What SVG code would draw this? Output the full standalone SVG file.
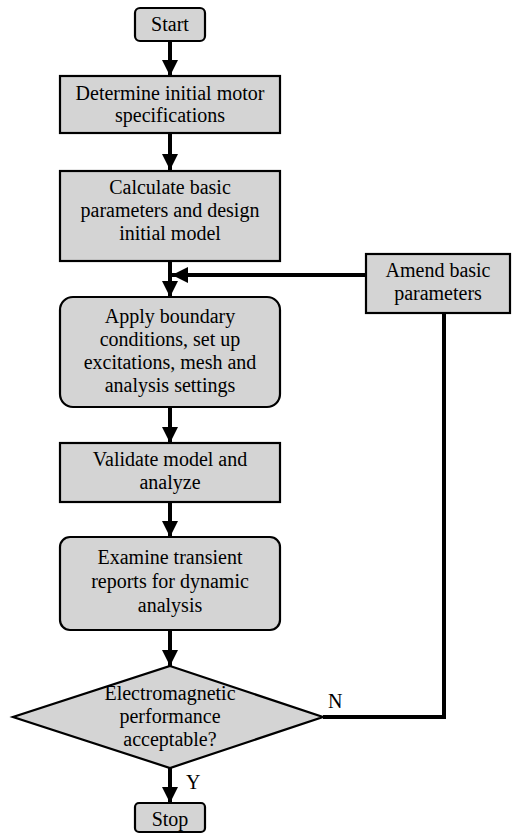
<svg xmlns="http://www.w3.org/2000/svg" width="512" height="834" viewBox="0 0 512 834">
<style>
.box{fill:#d4d4d4;stroke:#000;stroke-width:2.2}
.t{font-family:"Liberation Serif","Times New Roman",serif;font-size:20px;fill:#000;text-anchor:middle}
.lbl{font-family:"Liberation Serif","Times New Roman",serif;font-size:20px;fill:#000}
.c{fill:none;stroke:#000;stroke-width:4}
</style>
<defs>
<marker id="ah" markerUnits="userSpaceOnUse" markerWidth="16" markerHeight="16" viewBox="0 0 14 14" refX="14" refY="7" orient="auto">
<path d="M0,0 L14,7 L0,14 Z" fill="#000"/>
</marker>
</defs>
<rect width="512" height="834" fill="#fff"/>
<g id="connectors">
<line class="c" x1="170" y1="41" x2="170" y2="76" marker-end="url(#ah)"/>
<line class="c" x1="170" y1="133" x2="170" y2="170" marker-end="url(#ah)"/>
<line class="c" x1="170" y1="261" x2="170" y2="297" marker-end="url(#ah)"/>
<line class="c" x1="366" y1="275" x2="172" y2="275" marker-end="url(#ah)"/>
<line class="c" x1="170" y1="407" x2="170" y2="443" marker-end="url(#ah)"/>
<line class="c" x1="170" y1="502" x2="170" y2="537" marker-end="url(#ah)"/>
<line class="c" x1="170" y1="630" x2="170" y2="666" marker-end="url(#ah)"/>
<line class="c" x1="170" y1="768" x2="170" y2="803" marker-end="url(#ah)"/>
<polyline class="c" points="323,717 444,717 444,313"/>
<text class="lbl" x="328" y="708">N</text>
<text class="lbl" x="186" y="789">Y</text>
</g>
<g id="start">
<rect class="box" x="135" y="8" width="70" height="33" rx="5"/>
<text class="t" x="170" y="31">Start</text>
</g>
<g id="specs">
<rect class="box" x="60" y="76" width="220" height="57"/>
<text class="t" x="170" y="100">Determine initial motor</text>
<text class="t" x="170" y="122">specifications</text>
</g>
<g id="calc">
<rect class="box" x="60" y="171" width="220" height="90"/>
<text class="t" x="170" y="194">Calculate basic</text>
<text class="t" x="170" y="217">parameters and design</text>
<text class="t" x="170" y="240">initial model</text>
</g>
<g id="apply">
<rect class="box" x="60" y="297" width="220" height="110" rx="13"/>
<text class="t" x="170" y="323">Apply boundary</text>
<text class="t" x="170" y="346">conditions, set up</text>
<text class="t" x="170" y="369">excitations, mesh and</text>
<text class="t" x="170" y="392">analysis settings</text>
</g>
<g id="validate">
<rect class="box" x="60" y="443" width="220" height="59"/>
<text class="t" x="170" y="466">Validate model and</text>
<text class="t" x="170" y="489">analyze</text>
</g>
<g id="examine">
<rect class="box" x="60" y="537" width="220" height="93" rx="10"/>
<text class="t" x="170" y="564">Examine transient</text>
<text class="t" x="170" y="588">reports for dynamic</text>
<text class="t" x="170" y="612">analysis</text>
</g>
<g id="decision">
<polygon class="box" points="170,666 323,717 170,768 13,717"/>
<text class="t" x="170" y="700">Electromagnetic</text>
<text class="t" x="170" y="723">performance</text>
<text class="t" x="170" y="746">acceptable?</text>
</g>
<g id="amend">
<rect class="box" x="366" y="254" width="144" height="59"/>
<text class="t" x="438" y="277">Amend basic</text>
<text class="t" x="438" y="300">parameters</text>
</g>
<g id="stop">
<rect class="box" x="135" y="803" width="70" height="29" rx="4"/>
<text class="t" x="170" y="826">Stop</text>
</g>
</svg>
